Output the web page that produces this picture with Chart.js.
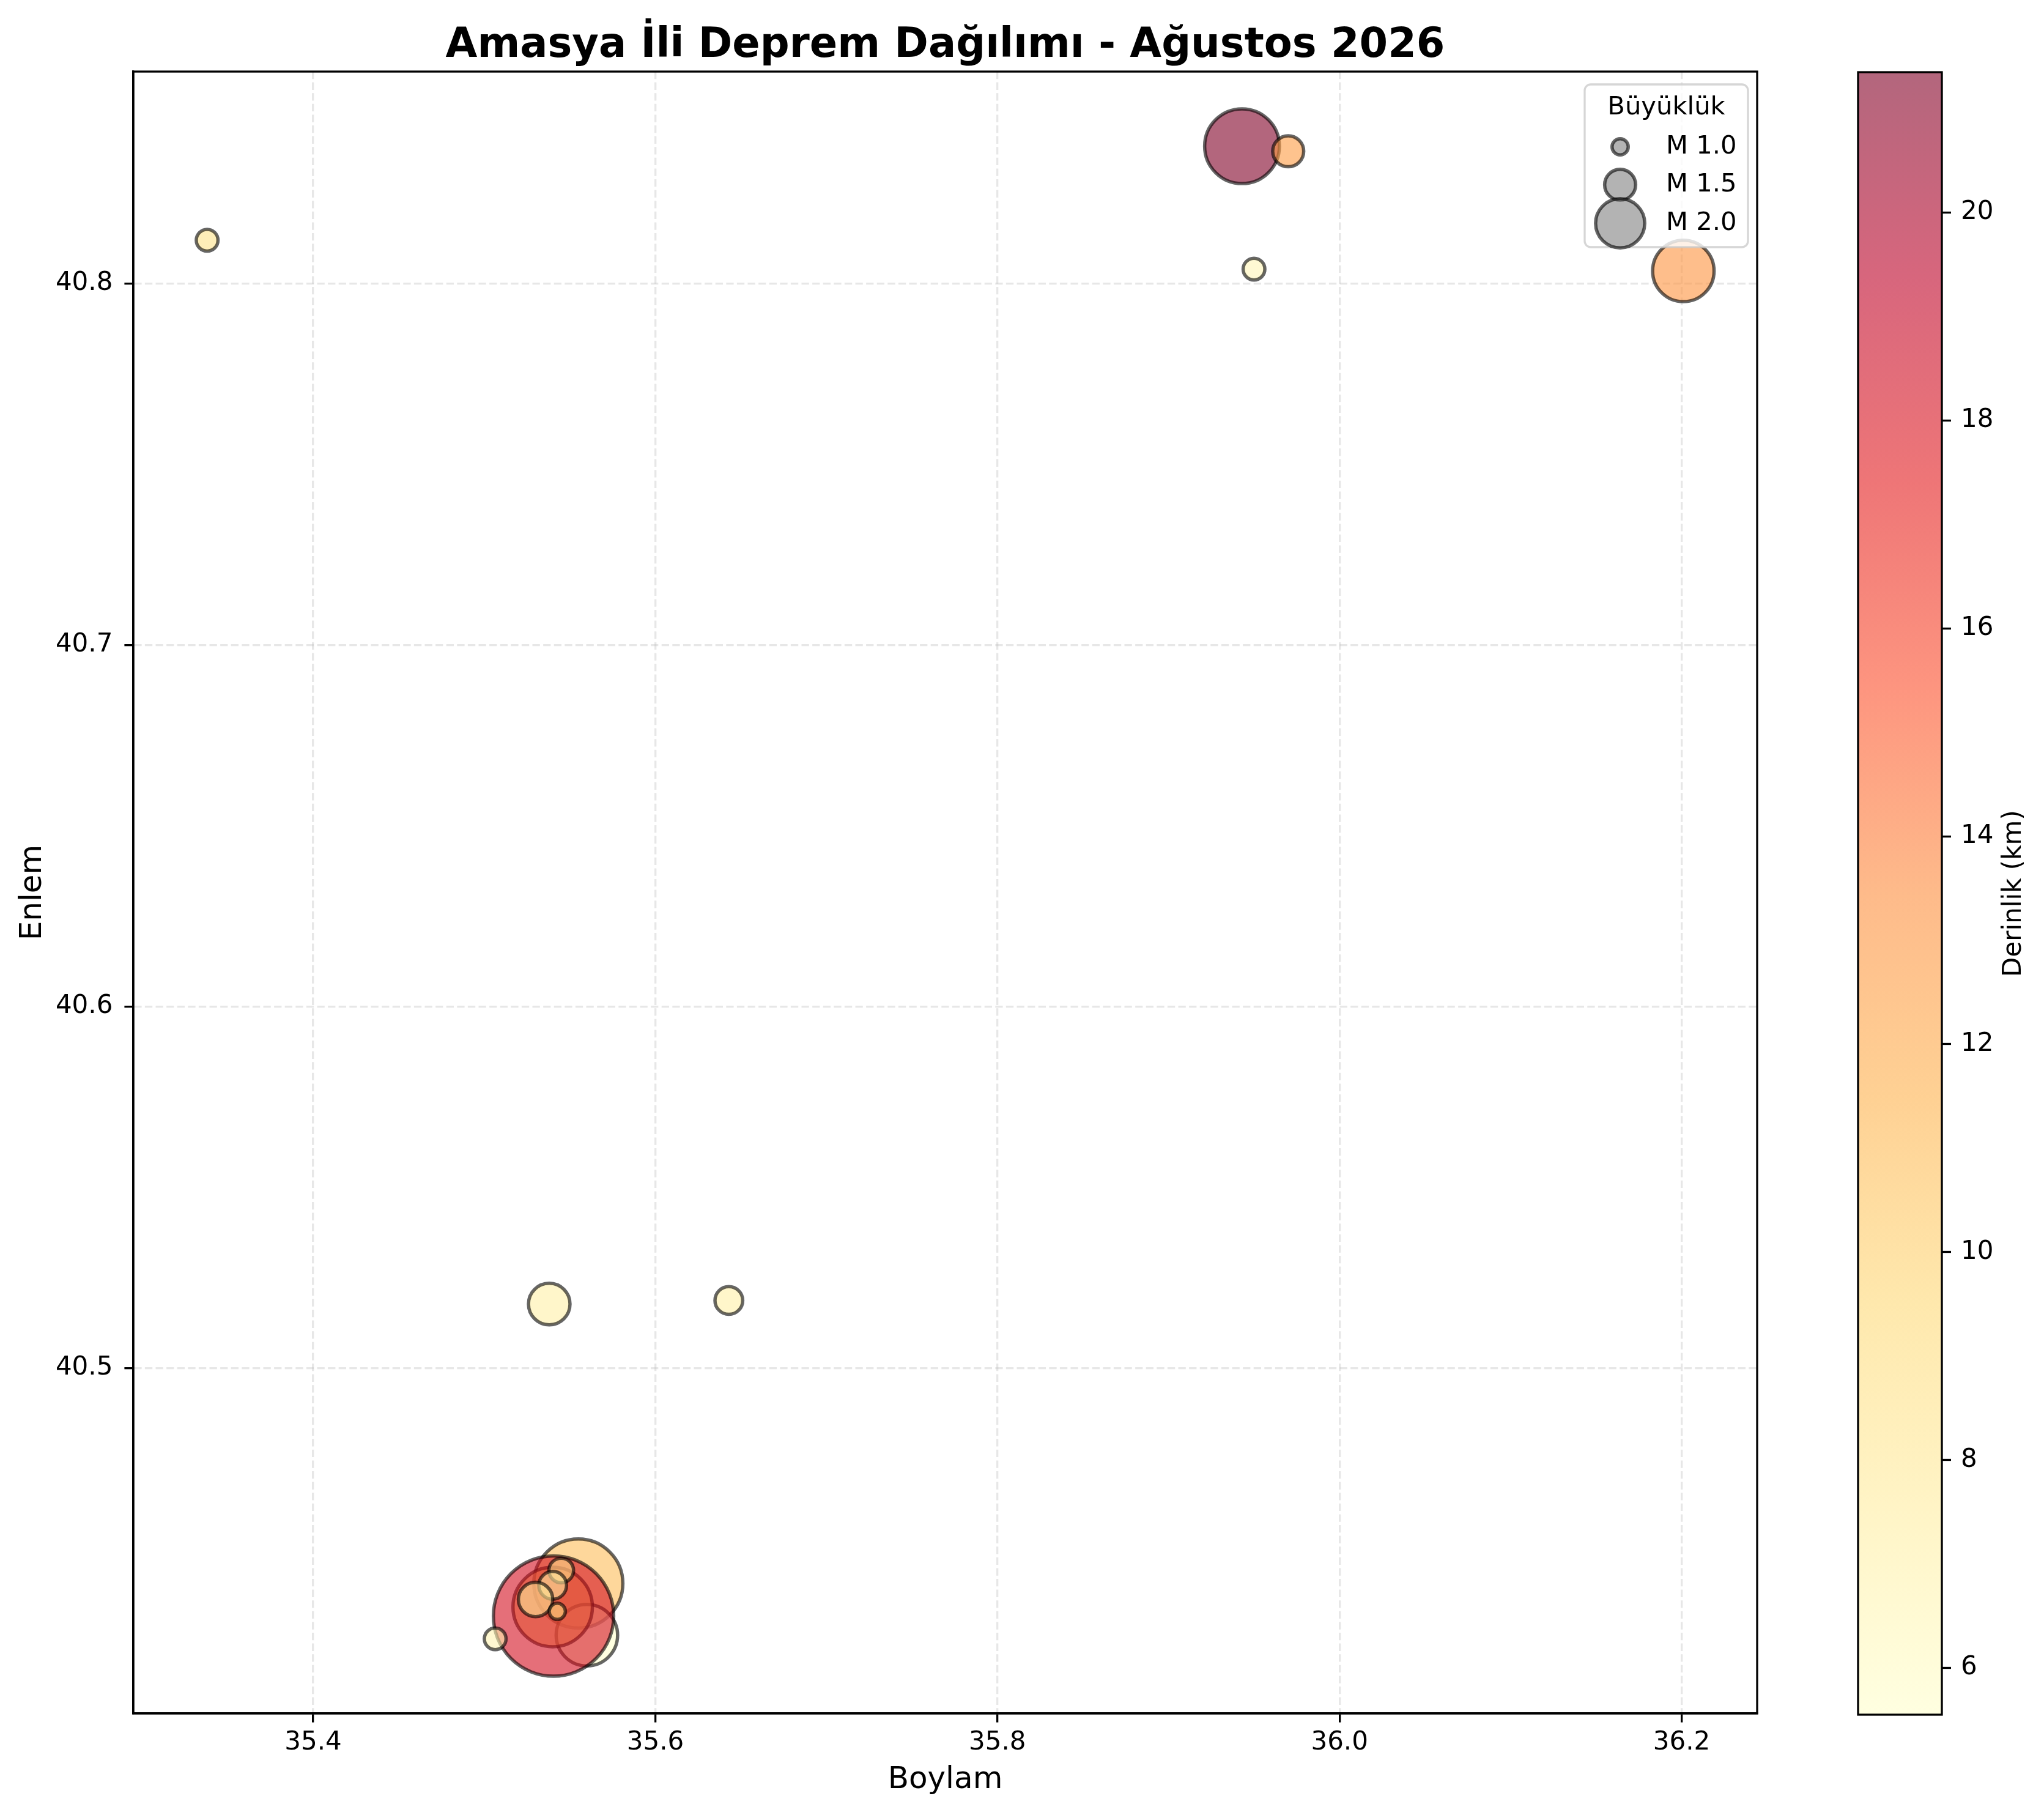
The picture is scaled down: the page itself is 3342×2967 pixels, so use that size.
<!DOCTYPE html>
<html>
<head>
<meta charset="utf-8">
<title>Amasya İli Deprem Dağılımı - Ağustos 2026</title>
<script src="https://cdn.jsdelivr.net/npm/chart.js@4.4.1/dist/chart.umd.min.js"></script>
<style>
  html, body { margin: 0; padding: 0; background: #ffffff; overflow: hidden; }
  #main { position: absolute; left: 0; top: 0; }
  #cbar { position: absolute; left: 2950px; top: 0; }
</style>
</head>
<body>
<canvas id="main" width="2950" height="2967"></canvas>
<canvas id="cbar" width="392" height="2967"></canvas>
<script>
// Earthquake list, in drawing order (later points lie on top)
const lon   = [35.338, 35.943, 35.970, 35.950, 36.201, 35.538, 35.643,
               35.555, 35.560, 35.540, 35.5405, 35.545, 35.540, 35.530, 35.5427, 35.5064];
const lat   = [40.812, 40.838, 40.8366, 40.804, 40.8035, 40.5177, 40.5187,
               40.4404, 40.4261, 40.4339, 40.4314, 40.444, 40.4399, 40.436, 40.4327, 40.4251];
const mag   = [1.2, 2.6, 1.5, 1.2, 2.3, 1.8, 1.4,
               2.9, 2.3, 2.7, 3.5, 1.3, 1.4, 1.6, 1.0, 1.2];
const depth = [8.6, 21.35, 12.7, 6.6, 13.2, 7.2, 7.2,
               10.9, 5.55, 10.4, 18.2, 8.5, 7.5, 8.0, 9.0, 6.8];

// legend entries (magnitudes)
const legendMags = [1.0, 1.5, 2.0];

// YlOrRd colour stops
const YL_OR_RD = [
  [255, 255, 204], [255, 237, 160], [254, 217, 118], [254, 178, 76], [253, 141, 60],
  [252, 78, 42], [227, 26, 28], [189, 0, 38], [128, 0, 38]
];

const ALPHA = 0.6;
const vmin = Math.min(...depth);
const vmax = Math.max(...depth);

// axis limits with 5% margins, like matplotlib autoscaling
const lonSpan = Math.max(...lon) - Math.min(...lon);
const latSpan = Math.max(...lat) - Math.min(...lat);
const xMin = Math.min(...lon) - 0.05 * lonSpan;
const xMax = Math.max(...lon) + 0.05 * lonSpan;
const yMin = Math.min(...lat) - 0.05 * latSpan;
const yMax = Math.max(...lat) + 0.05 * latSpan;

Chart.defaults.font.family = "'DejaVu Sans', sans-serif";
Chart.defaults.color = '#000000';

function rgba(c, a) {
  return 'rgba(' + c[0] + ',' + c[1] + ',' + c[2] + ',' + a + ')';
}

function depthColor(d) {
  let t = (d - vmin) / (vmax - vmin);
  t = Math.max(0, Math.min(1, t)) * (YL_OR_RD.length - 1);
  const i = Math.min(Math.floor(t), YL_OR_RD.length - 2);
  const f = t - i;
  const a = YL_OR_RD[i], b = YL_OR_RD[i + 1];
  const c = [0, 1, 2].map(k => Math.round(a[k] + (b[k] - a[k]) * f));
  return rgba(c, ALPHA);
}

// marker radius in px, area grows roughly with magnitude cubed
function markerRadius(m) {
  return 13.25 * Math.pow(m, 1.6);
}

const LINE = 3.3;
const EDGE = 5.5;

const mainDecor = {
  id: 'mainDecor',
  afterDatasetsDraw(chart) {
    const { ctx, chartArea: a } = chart;
    ctx.save();
    ctx.strokeStyle = '#000000';
    ctx.lineWidth = LINE;
    ctx.strokeRect(a.left, a.top, a.right - a.left, a.bottom - a.top);
    ctx.restore();
  },
  afterDraw(chart) {
    const { ctx, chartArea: a } = chart;
    ctx.save();

    // title
    ctx.fillStyle = '#000000';
    ctx.font = "bold 67px 'DejaVu Sans', sans-serif";
    ctx.textAlign = 'center';
    ctx.textBaseline = 'alphabetic';
    ctx.fillText('Amasya İli Deprem Dağılımı - Ağustos 2026', (a.left + a.right) / 2, 93);

    // size legend
    const bx = 2591, by = 138, bw = 267, bh = 266, rad = 10;
    ctx.beginPath();
    ctx.moveTo(bx + rad, by);
    ctx.arcTo(bx + bw, by, bx + bw, by + bh, rad);
    ctx.arcTo(bx + bw, by + bh, bx, by + bh, rad);
    ctx.arcTo(bx, by + bh, bx, by, rad);
    ctx.arcTo(bx, by, bx + bw, by, rad);
    ctx.closePath();
    ctx.fillStyle = 'rgba(255,255,255,0.8)';
    ctx.fill();
    ctx.strokeStyle = 'rgba(204,204,204,0.8)';
    ctx.lineWidth = LINE;
    ctx.stroke();

    ctx.fillStyle = '#000000';
    ctx.font = "41.7px 'DejaVu Sans', sans-serif";
    ctx.textAlign = 'center';
    ctx.textBaseline = 'middle';
    ctx.fillText('Büyüklük', bx + bw / 2, 176);

    const rowY = [240, 302, 365];
    legendMags.forEach((m, i) => {
      ctx.beginPath();
      ctx.arc(2649, rowY[i], markerRadius(m), 0, Math.PI * 2);
      ctx.fillStyle = 'rgba(128,128,128,0.6)';
      ctx.fill();
      ctx.strokeStyle = 'rgba(0,0,0,0.6)';
      ctx.lineWidth = EDGE;
      ctx.stroke();
      ctx.fillStyle = '#000000';
      ctx.textAlign = 'left';
      ctx.fillText('M ' + m.toFixed(1), 2724, rowY[i]);
    });
    ctx.restore();
  }
};

const axisGrid = {
  color: 'rgba(176,176,176,0.3)',
  lineWidth: LINE,
  tickLength: 14.6,
  tickColor: '#000000',
  tickWidth: LINE,
  tickBorderDash: []
};
const axisBorder = { display: true, color: '#000000', width: LINE, dash: [12.3, 5.3] };

new Chart(document.getElementById('main'), {
  type: 'bubble',
  data: {
    datasets: [{
      label: 'Deprem',
      data: lon.map((x, i) => ({ x: x, y: lat[i], r: markerRadius(mag[i]) })),
      backgroundColor: depth.map(depthColor),
      borderColor: 'rgba(0,0,0,0.6)',
      borderWidth: EDGE
    }]
  },
  options: {
    responsive: false,
    animation: false,
    devicePixelRatio: 1,
    events: [],
    layout: { autoPadding: false, padding: { left: 0, top: 117, right: 77, bottom: 0 } },
    plugins: {
      legend: { display: false },
      tooltip: { enabled: false },
      title: { display: false }
    },
    scales: {
      x: {
        type: 'linear',
        position: 'bottom',
        min: xMin,
        max: xMax,
        afterFit: s => { s.height = 166; s.paddingLeft = 0; s.paddingRight = 0; },
        ticks: {
          stepSize: 0.2, includeBounds: false, autoSkip: false, maxRotation: 0,
          padding: 8, color: '#000000', font: { size: 42 },
          callback: v => v.toFixed(1)
        },
        grid: axisGrid,
        border: axisBorder,
        title: { display: true, text: 'Boylam', color: '#000000', font: { size: 50 }, padding: { top: 0, bottom: 27 } }
      },
      y: {
        type: 'linear',
        position: 'left',
        min: yMin,
        max: yMax,
        afterFit: s => { s.width = 218; s.paddingTop = 0; s.paddingBottom = 0; },
        ticks: {
          stepSize: 0.1, includeBounds: false, autoSkip: false,
          padding: 19, color: '#000000', font: { size: 42 },
          callback: v => v.toFixed(1)
        },
        grid: axisGrid,
        border: axisBorder,
        title: { display: true, text: 'Enlem', color: '#000000', font: { size: 50 }, padding: { top: 24, bottom: 0 } }
      }
    }
  },
  plugins: [mainDecor]
});

// colour bar as its own small chart
const cbarDecor = {
  id: 'cbarDecor',
  afterDraw(chart) {
    const { ctx, chartArea: a } = chart;
    ctx.save();
    ctx.strokeStyle = '#000000';
    ctx.lineWidth = LINE;
    ctx.strokeRect(a.left, a.top, a.right - a.left, a.bottom - a.top);
    ctx.translate(343, (a.top + a.bottom) / 2);
    ctx.rotate(-Math.PI / 2);
    ctx.fillStyle = '#000000';
    ctx.font = "42px 'DejaVu Sans', sans-serif";
    ctx.textAlign = 'center';
    ctx.textBaseline = 'middle';
    ctx.fillText('Derinlik (km)', 0, 0);
    ctx.restore();
  }
};

new Chart(document.getElementById('cbar'), {
  type: 'bar',
  data: {
    labels: [''],
    datasets: [{
      data: [[vmin, vmax]],
      backgroundColor: ctx => {
        const area = ctx.chart.chartArea;
        if (!area) return 'rgba(0,0,0,0)';
        const g = ctx.chart.ctx.createLinearGradient(0, area.bottom, 0, area.top);
        YL_OR_RD.forEach((c, i) => g.addColorStop(i / (YL_OR_RD.length - 1), rgba(c, ALPHA)));
        return g;
      },
      borderWidth: 0,
      barPercentage: 1,
      categoryPercentage: 1
    }]
  },
  options: {
    responsive: false,
    animation: false,
    devicePixelRatio: 1,
    events: [],
    layout: { autoPadding: false, padding: { left: 88, top: 118, right: 0, bottom: 164 } },
    plugins: { legend: { display: false }, tooltip: { enabled: false } },
    scales: {
      x: { display: false },
      y: {
        position: 'right',
        min: vmin,
        max: vmax,
        afterFit: s => { s.width = 167; },
        ticks: { stepSize: 2, includeBounds: false, padding: 16, color: '#000000', font: { size: 42 } },
        grid: {
          display: true, drawOnChartArea: false, drawTicks: true,
          tickLength: 15, tickColor: '#000000', tickWidth: LINE
        },
        border: { display: false }
      }
    }
  },
  plugins: [cbarDecor]
});
</script>
</body>
</html>
